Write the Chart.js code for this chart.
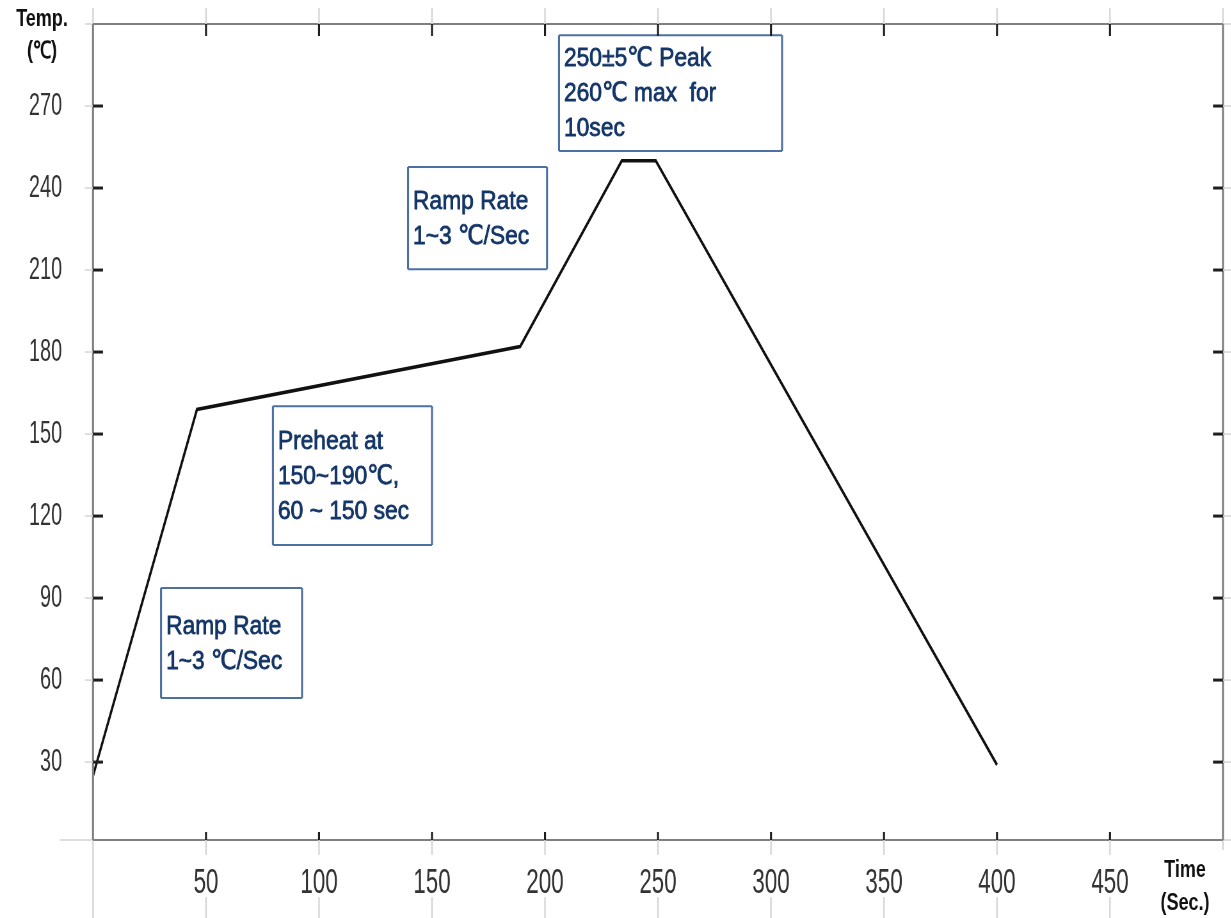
<!DOCTYPE html>
<html>
<head>
<meta charset="utf-8">
<script src="https://cdn.jsdelivr.net/npm/chart.js@4.4.1/dist/chart.umd.min.js"></script>
<style>
  html, body { margin: 0; padding: 0; background: #fff; overflow: hidden; }
  #wrap { position: absolute; left: 0; top: 0; height: 918px; transform-origin: 0 0; }
</style>
</head>
<body>
<div id="wrap"><canvas id="profile"></canvas></div>
<script>
// reflow profile
const timeSec = [0, 46, 189, 234, 249, 400];
const tempC = [25, 159, 182, 250, 250, 29];

const xTicks = [50, 100, 150, 200, 250, 300, 350, 400, 450];
const yTicks = [30, 60, 90, 120, 150, 180, 210, 240, 270];

const noteTexts = [
  ["250±5℃ Peak", "260℃ max  for", "10sec"],
  ["Ramp Rate", "1~3 ℃/Sec"],
  ["Preheat at", "150~190℃,", "60 ~ 150 sec"],
  ["Ramp Rate", "1~3 ℃/Sec"],
];
// box corners in data units: [left sec, top ℃, right sec, bottom ℃]
const noteBoxes = [
  [206.2, 295.9, 304.9, 253.5],
  [139.4, 247.7, 200.9, 210.3],
  [79.6, 160.2, 150.0, 109.4],
  [30.1, 93.7, 92.5, 53.4],
];

// the whole canvas is drawn wide and squeezed sideways, like the reference
const SQUASH = 0.64;
const u = 1 / SQUASH;

const wrap = document.querySelector("#wrap");
wrap.style.width = `${1231 / SQUASH}px`;
wrap.style.transform = `scaleX(${SQUASH})`;

const frameColor = "#808080";
const lightColor = "#d4d4d4";
const tickColor = "#1e1e1e";
const noteColor = "#143668";
const boxColor = "#4d70a3";

function hLine(ctx, x0, x1, y, color, width) {
  ctx.strokeStyle = color;
  ctx.lineWidth = width;
  ctx.beginPath();
  ctx.moveTo(x0, y);
  ctx.lineTo(x1, y);
  ctx.stroke();
}

function vLine(ctx, x, y0, y1, color, width) {
  ctx.strokeStyle = color;
  ctx.lineWidth = width * u;
  ctx.beginPath();
  ctx.moveTo(x, y0);
  ctx.lineTo(x, y1);
  ctx.stroke();
}

function drawText(ctx, text, x, y, font, color, condense, align, weight) {
  ctx.save();
  ctx.translate(x, y);
  ctx.scale(condense * u, 1);
  ctx.font = font;
  ctx.fillStyle = color;
  ctx.textAlign = align;
  ctx.textBaseline = "middle";
  ctx.fillText(text, 0, 0);
  if (weight) {
    ctx.strokeStyle = color;
    ctx.lineWidth = weight;
    ctx.strokeText(text, 0, 0);
  }
  ctx.restore();
}

function noPadding(scale) {
  scale.paddingTop = 0;
  scale.paddingBottom = 0;
  scale.paddingLeft = 0;
  scale.paddingRight = 0;
}

const framePlugin = {
  id: "frame",
  afterDraw(chart) {
    const ctx = chart.ctx;
    const { left, right, top, bottom } = chart.chartArea;
    const xs = chart.scales.x;
    const ys = chart.scales.y;
    const H = chart.height;
    const W = chart.width;
    ctx.save();

    vLine(ctx, left, top - 16, H, lightColor, 1.5);
    vLine(ctx, right, top - 16, bottom + 10, lightColor, 1.5);
    hLine(ctx, left - 8 * u, W, top, lightColor, 1.5);
    hLine(ctx, left - 33 * u, W, bottom, lightColor, 1.5);

    hLine(ctx, left, right, top, frameColor, 2);
    hLine(ctx, left, right, bottom, frameColor, 2);
    vLine(ctx, left, top, bottom, frameColor, 2);
    vLine(ctx, right, top, bottom, frameColor, 2);

    xs.ticks.forEach((tick) => {
      const x = xs.getPixelForValue(tick.value);
      vLine(ctx, x, bottom, bottom + 15, lightColor, 1.5);
      vLine(ctx, x, bottom + 57, H, lightColor, 1.5);
      vLine(ctx, x, top - 16, top, lightColor, 1.5);
      vLine(ctx, x, bottom - 8, bottom, tickColor, 2);
      vLine(ctx, x, top, top + 12, tickColor, 2);
    });

    ys.ticks.forEach((tick) => {
      const y = ys.getPixelForValue(tick.value);
      hLine(ctx, left - 8 * u, left, y, lightColor, 1.5);
      hLine(ctx, left, left + 10 * u, y, tickColor, 3);
      hLine(ctx, right - 10 * u, right, y, tickColor, 3);
      hLine(ctx, right, right + 8 * u, y, lightColor, 1.5);
    });

    const titleFont = "bold 24px 'Liberation Sans', Arial, sans-serif";
    drawText(ctx, "Temp.", 42 * u, 19, titleFont, "#111", 0.75, "center");
    drawText(ctx, "(℃)", 42 * u, 51, titleFont, "#111", 0.75, "center");
    drawText(ctx, "Time", 1185 * u, 870, titleFont, "#111", 0.75, "center");
    drawText(ctx, "(Sec.)", 1185 * u, 903, titleFont, "#111", 0.75, "center");

    ctx.restore();
  },
};

const notesPlugin = {
  id: "notes",
  afterDatasetsDraw(chart) {
    const ctx = chart.ctx;
    const xs = chart.scales.x;
    const ys = chart.scales.y;
    const noteFont = "26.5px 'Liberation Sans', Arial, 'DejaVu Sans', sans-serif";
    ctx.save();
    noteBoxes.forEach((box, index) => {
      const x0 = xs.getPixelForValue(box[0]);
      const x1 = xs.getPixelForValue(box[2]);
      const y0 = ys.getPixelForValue(box[1]);
      const y1 = ys.getPixelForValue(box[3]);
      ctx.fillStyle = "#fff";
      ctx.fillRect(x0, y0, x1 - x0, y1 - y0);
      hLine(ctx, x0, x1, y0, boxColor, 2);
      hLine(ctx, x0, x1, y1, boxColor, 2);
      vLine(ctx, x0, y0, y1, boxColor, 2);
      vLine(ctx, x1, y0, y1, boxColor, 2);

      const lines = noteTexts[index];
      const mid = (y0 + y1) / 2 + 1;
      lines.forEach((text, row) => {
        const y = mid + (row - (lines.length - 1) / 2) * 35;
        drawText(ctx, text, x0 + 5 * u, y, noteFont, noteColor, 0.86, "left", 0.8);
      });
    });
    ctx.restore();
  },
};

const chart = new Chart(document.querySelector("#profile"), {
  type: "line",
  data: {
    datasets: [
      {
        data: timeSec.map((t, i) => ({ x: t, y: tempC[i] })),
        borderColor: "#111111",
        borderWidth: 3.5,
        pointRadius: 0,
        tension: 0,
        fill: false,
      },
    ],
  },
  options: {
    responsive: true,
    maintainAspectRatio: false,
    animation: false,
    layout: {
      padding: { top: 24, right: 8 * u, left: 0, bottom: 0 },
    },
    plugins: {
      legend: { display: false },
      tooltip: { enabled: false },
    },
    scales: {
      x: {
        type: "linear",
        min: 0,
        max: 500,
        afterBuildTicks(scale) {
          scale.ticks = xTicks.map((value) => ({ value }));
        },
        afterFit(scale) {
          scale.height = 78;
          noPadding(scale);
        },
        grid: { display: false, drawTicks: false },
        border: { display: false },
        ticks: {
          maxRotation: 0,
          autoSkip: false,
          padding: 22,
          color: "#333333",
          font: { family: "'Liberation Sans', Arial, sans-serif", size: 35 },
        },
      },
      y: {
        min: 1.5,
        max: 300,
        afterBuildTicks(scale) {
          scale.ticks = yTicks.map((value) => ({ value }));
        },
        afterFit(scale) {
          scale.width = 93 * u;
          noPadding(scale);
        },
        grid: { display: false, drawTicks: false },
        border: { display: false },
        ticks: {
          autoSkip: false,
          padding: 31 * u,
          color: "#333333",
          font: { family: "'Liberation Sans', Arial, sans-serif", size: 31 },
        },
      },
    },
  },
  plugins: [framePlugin, notesPlugin],
});
</script>
</body>
</html>
